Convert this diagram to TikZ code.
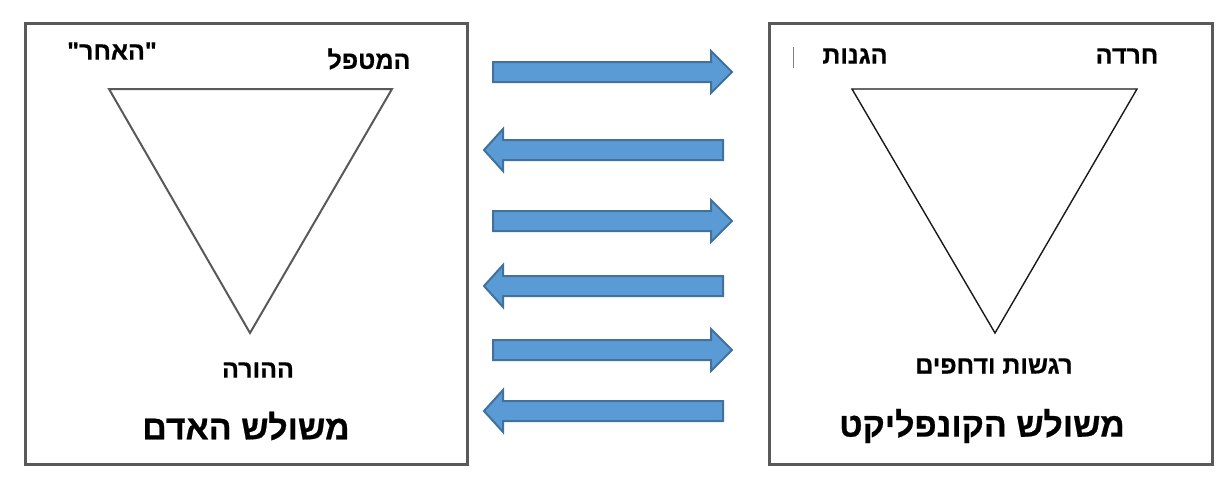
\documentclass[tikz,border=0pt]{standalone}
\usepackage{fontspec}
\setmainfont{Liberation Sans}
\newfontfamily\hebfont[Script=Hebrew, BoldFont={Liberation Sans Bold}, BoldFeatures={FakeBold=0.6}]{Liberation Sans}
\TeXXeTstate=1
\definecolor{arrfill}{HTML}{5B9BD5}
\definecolor{arrline}{HTML}{41719C}
\definecolor{boxline}{HTML}{595959}
\tikzset{
  panel/.style={draw=boxline, line width=2.6pt},
  lbl/.style={font=\hebfont\bfseries\fontsize{25}{28}\selectfont, inner sep=0pt},
  ttl/.style={font=\hebfont\bfseries\fontsize{34}{38}\selectfont, inner sep=0pt},
  fat/.style={fill=arrfill, draw=arrline, line width=2pt, line join=miter},
}
\newcommand{\rarrow}[1]{%
  \draw[fat] (493,#1-10) -- (711,#1-10) -- (711,#1-21) -- (732,#1) -- (711,#1+21) -- (711,#1+10) -- (493,#1+10) -- cycle;}
\newcommand{\larrow}[1]{%
  \draw[fat] (723,#1-10) -- (503,#1-10) -- (503,#1-21) -- (484,#1) -- (503,#1+21) -- (503,#1+10) -- (723,#1+10) -- cycle;}
\begin{document}
\begin{tikzpicture}[x=1pt,y=-1pt]
\useasboundingbox (0,0) rectangle (1232,485);
% panels
\node[panel, minimum width=442pt, minimum height=441pt, inner sep=0pt, anchor=north west] (L) at (24,22) {};
\node[panel, minimum width=443pt, minimum height=441pt, inner sep=0pt, anchor=north west] (R) at (768,22) {};
% triangles
\coordinate (la) at (109,89); \coordinate (lb) at (392,89); \coordinate (lc) at (250,333);
\draw[line width=2pt, draw=black!65] (la) -- (lb) -- (lc) -- cycle;
\coordinate (ra) at (852,89); \coordinate (rb) at (1137,89); \coordinate (rc) at (995,333);
\draw[line width=1.4pt, draw=black!90] (ra) -- (rb) -- (rc) -- cycle;
% left labels
\node[lbl] (other) at (112,51) {\beginR"האחר"\endR};
\node[lbl] (ther) at (369,59) {\beginR המטפל\endR};
\node[lbl] (par) at (258,370) {\beginR ההורה\endR};
\node[ttl] (t1) at (246,426) {\beginR משולש האדם\endR};
% right labels
\node[lbl] (def) at (855,56) {\beginR הגנות\endR};
\node[lbl] (anx) at (1127,56) {\beginR חרדה\endR};
\node[lbl] (emo) at (994,366) {\beginR רגשות ודחפים\endR};
\node[ttl] (t2) at (982,426) {\beginR משולש הקונפליקט\endR};
% stray marks
\draw[black!50, line width=0.8pt] (793,47) -- (793,68);
% arrows
\rarrow{72}
\larrow{150}
\rarrow{221}
\larrow{286}
\rarrow{350}
\larrow{411}
\end{tikzpicture}
\end{document}
